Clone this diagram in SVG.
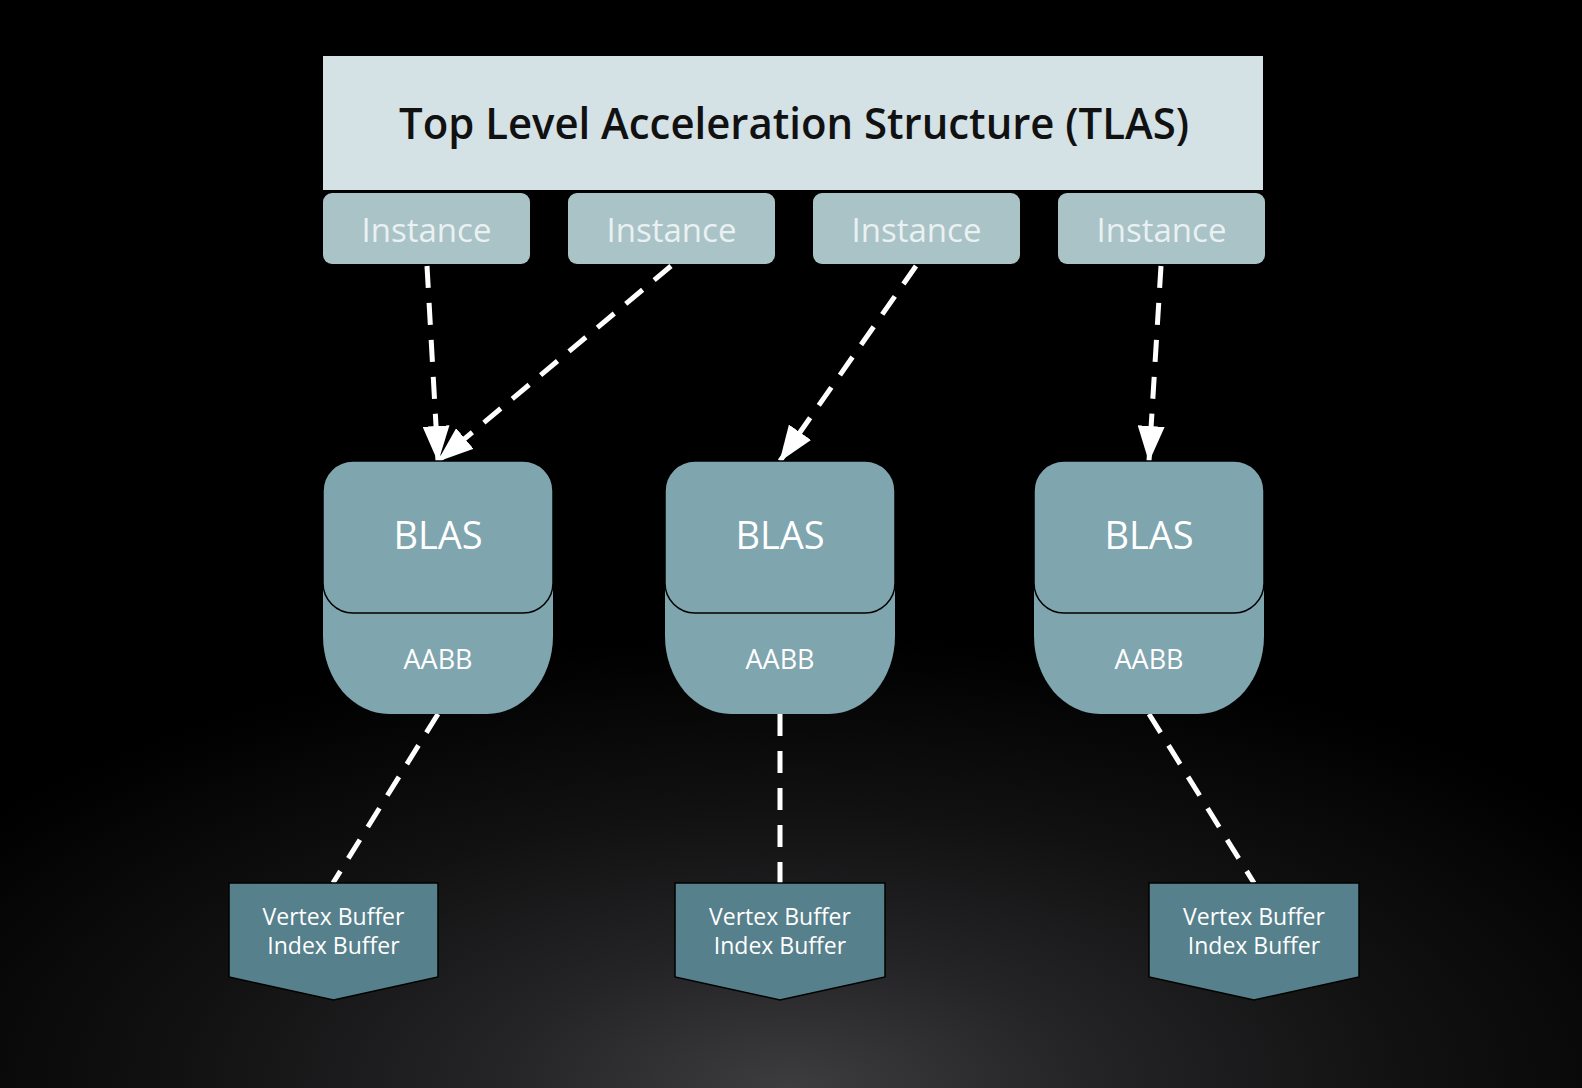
<svg xmlns="http://www.w3.org/2000/svg" width="1582" height="1088" viewBox="0 0 1582 1088">
<defs>
<radialGradient id="bg" gradientUnits="userSpaceOnUse" cx="790" cy="1088" r="1000" gradientTransform="translate(790 1088) scale(1 0.45) translate(-790 -1088)">
<stop offset="0" stop-color="#3d3d3f"/>
<stop offset="0.3" stop-color="#242426"/>
<stop offset="0.62" stop-color="#111112"/>
<stop offset="1" stop-color="#000"/>
</radialGradient>
<marker id="arr" markerUnits="userSpaceOnUse" viewBox="0 0 36 27" markerWidth="36" markerHeight="27" refX="35" refY="13.5" orient="auto">
<path d="M0,0 L36,13.5 L0,27 z" fill="#fff"/>
</marker>
<style>
text{font-family:"Open Sans","Noto Sans","DejaVu Sans",sans-serif;text-anchor:middle}
.title{font-size:44px;font-weight:600;fill:#111}
.inst rect{fill:#a9c3c7}
.inst text{font-size:33px;fill:#e9f1f2}
.blas .low{fill:#7fa5ae}
.blas .up{fill:#7fa5ae;stroke:#000;stroke-width:1.5}
.blas .t1{font-size:38px;fill:#fff}
.blas .t2{font-size:27px;fill:#fff}
.vb path{fill:#56808b;stroke:#000;stroke-width:1.5}
.vb text{font-size:23px;fill:#fff}
.c{fill:none;stroke:#fff;stroke-width:5;stroke-dasharray:22 15}
</style>
</defs>
<rect width="1582" height="1088" fill="#000"/>
<rect width="1582" height="1088" fill="url(#bg)"/>

<g id="tlas">
<rect x="323" y="56" width="940" height="134" fill="#d4e1e5"/>
<text class="title" x="794" y="139" textLength="790" lengthAdjust="spacingAndGlyphs">Top Level Acceleration Structure (TLAS)</text>
</g>

<g id="instance1" class="inst"><rect x="323" y="193" width="207" height="71" rx="9"/><text x="426.5" y="242">Instance</text></g>
<g id="instance2" class="inst"><rect x="568" y="193" width="207" height="71" rx="9"/><text x="671.5" y="242">Instance</text></g>
<g id="instance3" class="inst"><rect x="813" y="193" width="207" height="71" rx="9"/><text x="916.5" y="242">Instance</text></g>
<g id="instance4" class="inst"><rect x="1058" y="193" width="207" height="71" rx="9"/><text x="1161.5" y="242">Instance</text></g>

<g id="connectors">
<path class="c" d="M427,266 L438,461" marker-end="url(#arr)"/>
<path class="c" d="M671,266 L438,461" marker-end="url(#arr)"/>
<path class="c" d="M916,266 L780,461" marker-end="url(#arr)"/>
<path class="c" d="M1161,266 L1149,461" marker-end="url(#arr)"/>
<path class="c" d="M438,714 L333,883"/>
<path class="c" d="M780,714 L780,883"/>
<path class="c" d="M1149,714 L1254,883"/>
</g>

<g id="blas1" class="blas">
<path class="low" d="M323,560 H553 V636 A66,78 0 0 1 487,714 H389 A66,78 0 0 1 323,636 Z"/>
<rect class="up" x="323" y="461" width="230" height="152" rx="30"/>
<text class="t1" x="438" y="549">BLAS</text>
<text class="t2" x="438" y="669">AABB</text>
</g>
<g id="blas2" class="blas">
<path class="low" d="M665,560 H895 V636 A66,78 0 0 1 829,714 H731 A66,78 0 0 1 665,636 Z"/>
<rect class="up" x="665" y="461" width="230" height="152" rx="30"/>
<text class="t1" x="780" y="549">BLAS</text>
<text class="t2" x="780" y="669">AABB</text>
</g>
<g id="blas3" class="blas">
<path class="low" d="M1034,560 H1264 V636 A66,78 0 0 1 1198,714 H1100 A66,78 0 0 1 1034,636 Z"/>
<rect class="up" x="1034" y="461" width="230" height="152" rx="30"/>
<text class="t1" x="1149" y="549">BLAS</text>
<text class="t2" x="1149" y="669">AABB</text>
</g>

<g id="vb1" class="vb">
<path d="M229,883 H438 V977 L333.5,1000 L229,977 Z"/>
<text x="333.5" y="925">Vertex Buffer</text>
<text x="333.5" y="954">Index Buffer</text>
</g>
<g id="vb2" class="vb">
<path d="M675,883 H885 V977 L780,1000 L675,977 Z"/>
<text x="780" y="925">Vertex Buffer</text>
<text x="780" y="954">Index Buffer</text>
</g>
<g id="vb3" class="vb">
<path d="M1149,883 H1359 V977 L1254,1000 L1149,977 Z"/>
<text x="1254" y="925">Vertex Buffer</text>
<text x="1254" y="954">Index Buffer</text>
</g>
</svg>
